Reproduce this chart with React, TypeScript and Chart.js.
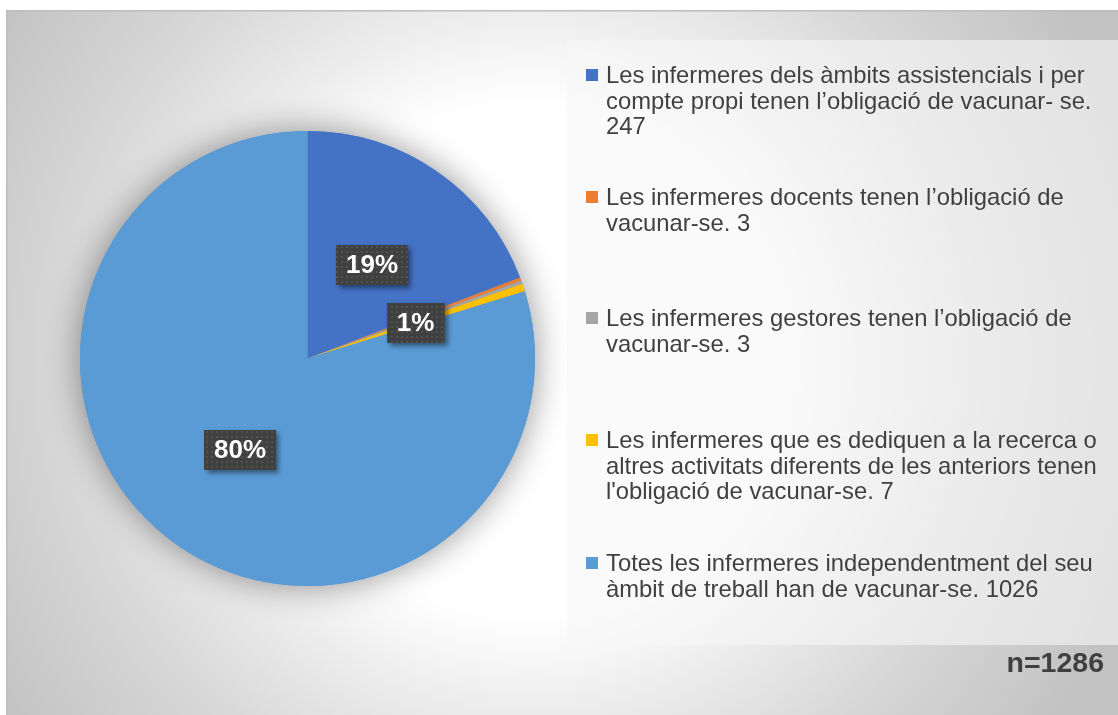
import React, { useEffect, useRef } from "react";
import { Chart, registerables } from "chart.js";

Chart.register(...registerables);

// ---- data ----
const categoryLines: string[][] = [
  ["Les infermeres dels àmbits assistencials i per", "compte propi tenen l’obligació de vacunar- se.", "247"],
  ["Les infermeres docents tenen l’obligació de", "vacunar-se. 3"],
  ["Les infermeres gestores tenen l’obligació de", "vacunar-se. 3"],
  ["Les infermeres que es dediquen a la recerca o", "altres activitats diferents de les anteriors tenen", "l'obligació de vacunar-se. 7"],
  ["Totes les infermeres independentment del seu", "àmbit de treball han de vacunar-se. 1026"],
];
const values: number[] = [247, 3, 3, 7, 1026];
const sliceColors: string[] = ["#4472C4", "#ED7D31", "#A5A5A5", "#FFC000", "#5B9BD5"];
const sampleLabel = "n=1286";

const FONT = "'Liberation Sans', Arial, sans-serif";
const W = 1118;
const H = 715;

export default function App() {
  const ref = useRef<HTMLCanvasElement>(null);

  useEffect(() => {
    const canvas = ref.current!;
    const total = values.reduce((a, b) => a + b, 0);

    const bgPlugin = {
      id: "bg",
      beforeDraw(chart: any) {
        const ctx = chart.ctx as CanvasRenderingContext2D;
        ctx.save();
        ctx.fillStyle = "#ffffff";
        ctx.fillRect(0, 0, W, H);
        const g = ctx.createRadialGradient(530, 360, 0, 530, 360, 640);
        g.addColorStop(0, "#ffffff");
        g.addColorStop(0.4, "#ffffff");
        g.addColorStop(0.55, "#ececec");
        g.addColorStop(0.75, "#d6d6d6");
        g.addColorStop(1, "#c2c2c2");
        ctx.fillStyle = g;
        ctx.fillRect(6, 10, W - 6, H - 10);
        ctx.strokeStyle = "#bdbdbd";
        ctx.lineWidth = 1.5;
        ctx.beginPath();
        ctx.moveTo(6.75, H);
        ctx.lineTo(6.75, 10.75);
        ctx.lineTo(W, 10.75);
        ctx.stroke();
        ctx.restore();
      },
    };

    const shadowPlugin = {
      id: "pieShadow",
      beforeDatasetsDraw(chart: any) {
        const ctx = chart.ctx as CanvasRenderingContext2D;
        const arc = chart.getDatasetMeta(0).data[0];
        if (!arc) return;
        ctx.save();
        ctx.shadowColor = "rgba(0,0,0,0.42)";
        ctx.shadowBlur = 34;
        ctx.beginPath();
        ctx.arc(arc.x, arc.y, arc.outerRadius, 0, Math.PI * 2);
        ctx.fillStyle = "#5B9BD5";
        ctx.fill();
        ctx.restore();
      },
    };

    const pat = document.createElement("canvas");
    pat.width = 5;
    pat.height = 5;
    const pctx = pat.getContext("2d")!;
    pctx.fillStyle = "rgba(255,255,255,0.09)";
    pctx.fillRect(1, 1, 2, 2);

    const labelPlugin = {
      id: "pctLabels",
      afterDatasetsDraw(chart: any) {
        const ctx = chart.ctx as CanvasRenderingContext2D;
        const meta = chart.getDatasetMeta(0);
        const pattern = ctx.createPattern(pat, "repeat");
        meta.data.forEach((arc: any, i: number) => {
          const pct = Math.round((values[i] / total) * 100);
          if (pct === 0) return;
          const mid = (arc.startAngle + arc.endAngle) / 2;
          const r = arc.outerRadius * 0.5;
          const x = arc.x + r * Math.cos(mid);
          const y = arc.y + r * Math.sin(mid);
          const text = pct + "%";
          ctx.save();
          ctx.font = `bold 26px ${FONT}`;
          const tw = ctx.measureText(text).width;
          const bw = tw + 20;
          const bh = 40;
          const bx = Math.round(x - bw / 2);
          const by = Math.round(y - bh / 2);
          ctx.shadowColor = "rgba(0,0,0,0.45)";
          ctx.shadowOffsetX = 3;
          ctx.shadowOffsetY = 3;
          ctx.shadowBlur = 5;
          ctx.fillStyle = "#404040";
          ctx.fillRect(bx, by, bw, bh);
          ctx.shadowColor = "transparent";
          ctx.shadowBlur = 0;
          ctx.shadowOffsetX = 0;
          ctx.shadowOffsetY = 0;
          if (pattern) {
            ctx.fillStyle = pattern;
            ctx.fillRect(bx, by, bw, bh);
          }
          ctx.fillStyle = "#ffffff";
          ctx.textAlign = "center";
          ctx.textBaseline = "middle";
          ctx.fillText(text, x, y + 1);
          ctx.restore();
        });
      },
    };

    const chart = new Chart(canvas, {
      type: "pie",
      data: {
        labels: categoryLines.map((l) => l.join(" ")),
        datasets: [
          {
            data: values,
            backgroundColor: sliceColors,
            borderWidth: 0,
          },
        ],
      },
      options: {
        animation: false,
        responsive: false,
        devicePixelRatio: 1,
        layout: { padding: { left: 80, right: 583, top: 131, bottom: 129 } },
        plugins: {
          legend: { display: false },
          tooltip: { enabled: false },
          title: { display: false },
        },
      },
      plugins: [bgPlugin, shadowPlugin, labelPlugin],
    });
    return () => chart.destroy();
  }, []);

  const lineH = 25.5;
  const fontSize = 23.8;
  const firstCenters = [75, 197, 318, 440, 563];

  return (
    <div
      style={{
        position: "absolute",
        left: 0,
        top: 0,
        width: W,
        height: H,
        overflow: "hidden",
        fontFamily: FONT,
        background: "#fff",
      }}
    >
      <canvas ref={ref} width={W} height={H} style={{ position: "absolute", left: 0, top: 0, width: W, height: H }} />
      <div
        style={{
          position: "absolute",
          left: 567,
          top: 40,
          width: W - 567,
          height: 605,
          background: "rgba(246,246,246,0.6)",
        }}
      />
      {categoryLines.map((lines, i) => (
        <div key={i}>
          <div
            style={{
              position: "absolute",
              left: 586,
              top: firstCenters[i] - 6,
              width: 12,
              height: 12,
              background: sliceColors[i],
            }}
          />
          <div
            style={{
              position: "absolute",
              left: 606,
              top: firstCenters[i] - lineH / 2,
              fontSize,
              lineHeight: lineH + "px",
              color: "#404040",
              whiteSpace: "nowrap",
            }}
          >
            {lines.map((t, j) => (
              <div key={j}>{t}</div>
            ))}
          </div>
        </div>
      ))}
      <div
        style={{
          position: "absolute",
          right: 14,
          top: 646,
          fontSize: 28.5,
          lineHeight: "32px",
          fontWeight: "bold",
          color: "#404040",
        }}
      >
        {sampleLabel}
      </div>
    </div>
  );
}
